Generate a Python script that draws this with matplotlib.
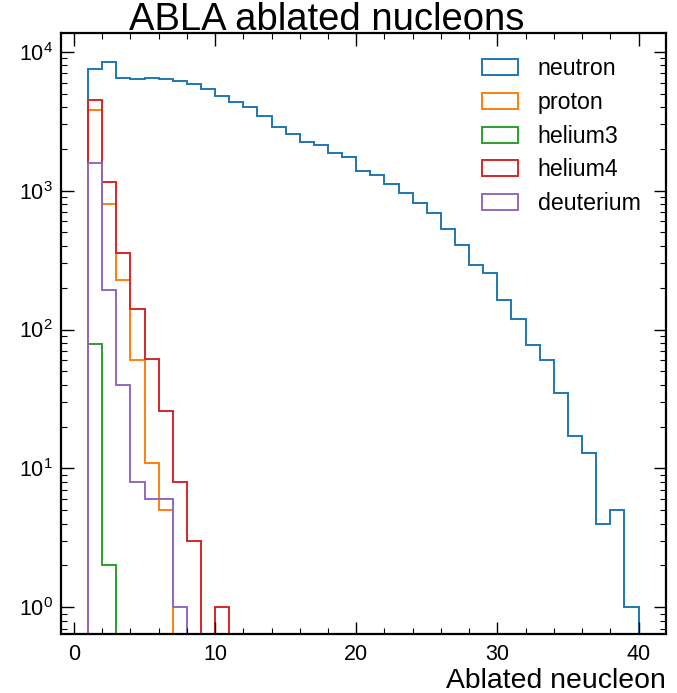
import numpy as np
import matplotlib
matplotlib.use("Agg")
import matplotlib.pyplot as plt
from matplotlib.patches import Patch
from matplotlib.ticker import MultipleLocator, LogLocator, NullFormatter

plt.rcParams["font.family"] = ["Liberation Sans", "DejaVu Sans"]
plt.rcParams["mathtext.fontset"] = "custom"
plt.rcParams["mathtext.rm"] = "Liberation Sans"
plt.rcParams["mathtext.it"] = "Liberation Sans:italic"
plt.rcParams["mathtext.default"] = "regular"

species = ["neutron", "proton", "helium3", "helium4", "deuterium"]
colors = ["#1f77b4", "#ff7f0e", "#2ca02c", "#d62728", "#9467bd"]

# counts in unit-width bins, the first bin starts at 1 ablated nucleon
neutron = [7470, 8470, 6430, 6330, 6500, 6360, 6150, 5890, 5360, 4820,
           4370, 3980, 3440, 2880, 2560, 2230, 2130, 1860, 1740, 1390,
           1295, 1115, 957, 811, 694, 527, 406, 291, 254, 163,
           120, 77, 60, 35, 17, 13, 4, 5, 1]
proton = [3790, 801, 227, 60, 11, 5]
helium3 = [78, 2]
helium4 = [4470, 1160, 354, 140, 61, 26, 8, 3, 0, 1]
deuterium = [1573, 192, 40, 8, 6, 6, 1]
first_edge = 1

counts = [neutron, proton, helium3, helium4, deuterium]

fig = plt.figure(figsize=(6.77, 6.93), dpi=100)
ax = fig.add_axes([0.0894, 0.0851, 0.8944, 0.8666])
ax.set_yscale("log")

handles = []
for name, vals, c in zip(species, counts, colors):
    edges = np.arange(first_edge, first_edge + len(vals) + 1)
    ax.stairs(vals, edges, color=c, linewidth=1.4, baseline=0)
    handles.append(Patch(facecolor="none", edgecolor=c, linewidth=1.4, label=name))

ax.set_xlim(-0.95, 41.95)
ax.set_ylim(0.642, 13530)

ax.xaxis.set_major_locator(MultipleLocator(10))
ax.xaxis.set_minor_locator(MultipleLocator(2))
ax.yaxis.set_major_locator(LogLocator(base=10, numticks=10))
ax.yaxis.set_minor_locator(LogLocator(base=10, subs=np.arange(2, 10), numticks=10))
ax.yaxis.set_minor_formatter(NullFormatter())

ax.tick_params(which="both", direction="in", top=True, right=True)
ax.tick_params(which="major", length=9, width=1.0, labelsize=15.5)
ax.tick_params(which="minor", length=4.5, width=0.8)
ax.tick_params(axis="x", which="major", pad=7)
ax.tick_params(axis="y", which="major", pad=5.5)
for s in ax.spines.values():
    s.set_linewidth(1.6)

ax.set_xlabel("Ablated neucleon", fontsize=20.4, loc="right", labelpad=2)
fig.text(0.483, 0.957, "ABLA ablated nucleons", fontsize=27.5, ha="center", va="baseline")

ax.legend(handles=handles, loc="upper right", bbox_to_anchor=(0.973, 0.9755),
          borderaxespad=0, fontsize=16.7, frameon=False,
          handlelength=1.55, handleheight=0.7, labelspacing=0.46,
          handletextpad=0.85)

fig.savefig("out.png", dpi=100)
